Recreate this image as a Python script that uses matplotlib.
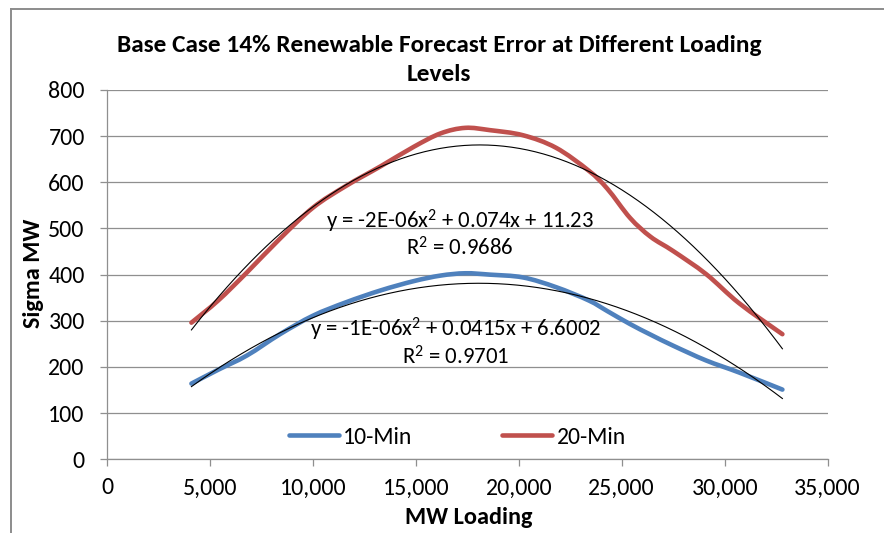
import numpy as np
import matplotlib
matplotlib.use("Agg")
import matplotlib.pyplot as plt
from matplotlib.path import Path
from matplotlib.patches import PathPatch
from matplotlib.lines import Line2D
from matplotlib import font_manager

# ---------------- data ----------------
loading = [4100, 5400, 6800, 8400, 10000, 11600, 13300, 14900, 16200, 17400, 18600,
           20200, 21800, 23400, 24300, 25400, 26400, 27500, 29100, 30700, 32800]
sigma_10min = [164, 194, 225, 271, 311, 340, 366, 386, 398, 403, 400,
               394, 373, 344, 321, 293, 270, 246, 214, 188, 151]
sigma_20min = [296, 344, 405, 478, 545, 592, 635, 677, 706, 718, 713,
               702, 675, 625, 586, 523, 482, 451, 401, 338, 271]
series_names = ["10-Min", "20-Min"]
# polynomial trendline coefficients (a, b, c)
trend_10min = [-1.149e-6, 0.0415, 6.6002]
trend_20min = [-2.044e-6, 0.074, 11.23]
eq_10min = ["y = -1E-06x$^2$ + 0.0415x + 6.6002", "R$^2$ = 0.9701"]
eq_20min = ["y = -2E-06x$^2$ + 0.074x + 11.23", "R$^2$ = 0.9686"]
x_ticks = [0, 5000, 10000, 15000, 20000, 25000, 30000, 35000]
y_ticks = [0, 100, 200, 300, 400, 500, 600, 700, 800]
title = "Base Case 14% Renewable Forecast Error at Different Loading\nLevels"
x_label = "MW Loading"
y_label = "Sigma MW"

# ---------------- style ----------------
avail = {f.name for f in font_manager.fontManager.ttflist}
fam = "Carlito" if "Carlito" in avail else "Liberation Sans"
plt.rcParams["font.family"] = [fam, "DejaVu Sans"]
plt.rcParams["mathtext.fontset"] = "custom"
plt.rcParams["mathtext.rm"] = fam
plt.rcParams["mathtext.it"] = fam
plt.rcParams["mathtext.bf"] = fam + ":bold"
FS_TICK = 17.2
FS_LEG = 17
FS_EQ = 16.4
FS_TITLE = 18.2
FS_LABEL = 17.5
BLUE = "#4F81BD"
RED = "#C0504D"
GRID = "#8f8f8f"

W, H = 884, 533
fig = plt.figure(figsize=(W / 100, H / 100), dpi=100)
ax = fig.add_axes([107 / W, 1 - 459.3 / H, (827.7 - 107) / W, (459.3 - 90) / H])

ax.set_xlim(0, 35000)
ax.set_ylim(0, 800)
ax.set_xticks(x_ticks)
ax.set_yticks(y_ticks)
ax.set_xticklabels([f"{v:,}" for v in x_ticks])
ax.set_yticklabels([str(v) for v in y_ticks])
ax.tick_params(axis="both", direction="out", length=5, width=0.9, color=GRID,
               labelsize=FS_TICK, labelcolor="#000000")
ax.tick_params(axis="y", pad=11)
ax.tick_params(axis="x", pad=8)
for s in ["top", "right"]:
    ax.spines[s].set_visible(False)
for s in ["left", "bottom"]:
    ax.spines[s].set_color(GRID)
    ax.spines[s].set_linewidth(0.9)
ax.yaxis.grid(True, color=GRID, linewidth=0.9, zorder=0)
ax.set_axisbelow(True)


def smooth_path(xs, ys):
    pts = np.column_stack([xs, ys]).astype(float)
    n = len(pts)
    verts = [pts[0]]
    codes = [Path.MOVETO]
    for i in range(n - 1):
        p0 = pts[i - 1] if i > 0 else pts[i]
        p1 = pts[i]
        p2 = pts[i + 1]
        p3 = pts[i + 2] if i + 2 < n else pts[i + 1]
        c1 = p1 + (p2 - p0) / 6.0
        c2 = p2 - (p3 - p1) / 6.0
        verts += [c1, c2, p2]
        codes += [Path.CURVE4] * 3
    return Path(verts, codes)


for vals, col in [(sigma_10min, BLUE), (sigma_20min, RED)]:
    patch = PathPatch(smooth_path(loading, vals), fill=False, edgecolor=col,
                      linewidth=3.3, capstyle="round", joinstyle="round",
                      transform=ax.transData, zorder=3)
    ax.add_patch(patch)

xx = np.linspace(min(loading), max(loading), 300)
for coef in [trend_10min, trend_20min]:
    ax.plot(xx, np.polyval(coef, xx), color="black", linewidth=0.8, zorder=4)

# equation labels
ax.text(17125, 515, eq_20min[0], ha="center", va="center", fontsize=FS_EQ, zorder=5)
ax.text(17125, 457, eq_20min[1], ha="center", va="center", fontsize=FS_EQ, zorder=5)
ax.text(16940, 281, eq_10min[0], ha="center", va="center", fontsize=FS_EQ, zorder=5)
ax.text(16940, 221, eq_10min[1], ha="center", va="center", fontsize=FS_EQ, zorder=5)

handles = [Line2D([], [], color=BLUE, linewidth=3.3, solid_capstyle="round"),
           Line2D([], [], color=RED, linewidth=3.3, solid_capstyle="round")]
fig.legend(handles, series_names, loc="center", bbox_to_anchor=(457.5 / W, 1 - 437 / H),
           ncol=2, frameon=False, fontsize=FS_LEG, handlelength=2.1, handletextpad=0.2,
           columnspacing=3.8)

# titles and labels
fig.text(439 / W, 1 - 60 / H, title, ha="center", va="center", fontsize=FS_TITLE,
         fontweight="bold", linespacing=1.45)
fig.text(469 / W, 1 - 518 / H, x_label, ha="center", va="center", fontsize=FS_LABEL,
         fontweight="bold")
fig.text(33 / W, 1 - 273 / H, y_label, ha="center", va="center", fontsize=FS_LABEL,
         fontweight="bold", rotation=90)

# chart-area border (left and top visible)
fig.add_artist(Line2D([11 / W, 11 / W], [0, 1 - 9 / H], transform=fig.transFigure,
                      color="#8c8c8c", linewidth=1.4))
fig.add_artist(Line2D([11 / W, 1], [1 - 9 / H, 1 - 9 / H], transform=fig.transFigure,
                      color="#8c8c8c", linewidth=1.4))

fig.savefig("out.png", dpi=100)
